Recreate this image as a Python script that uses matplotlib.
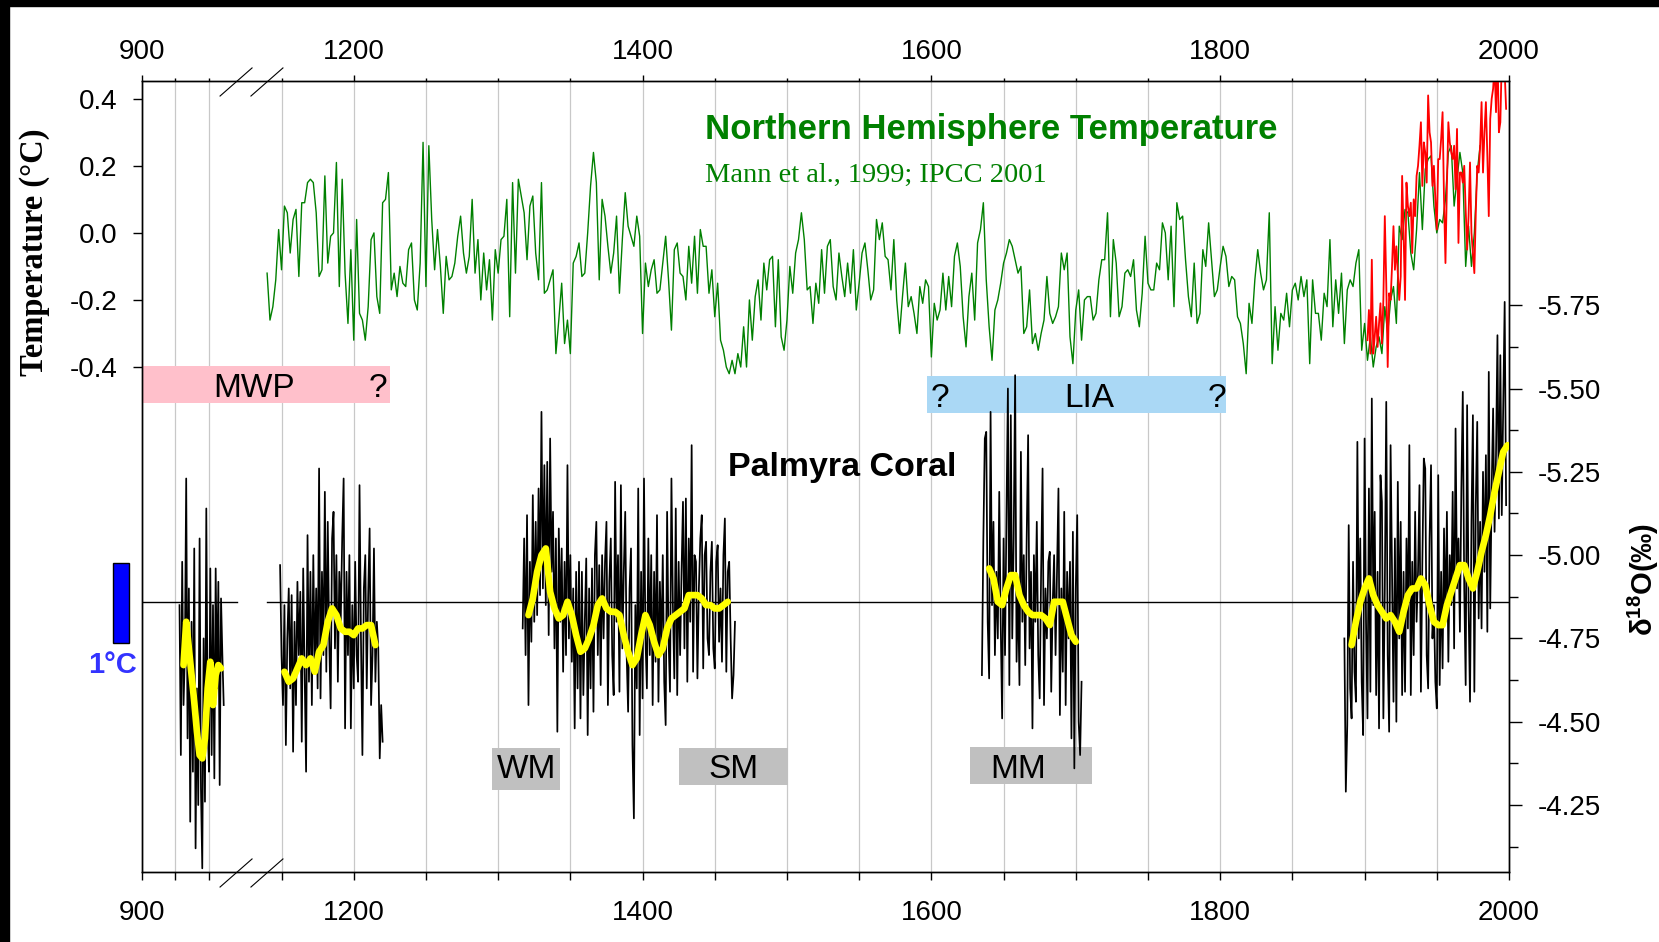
import numpy as np
import matplotlib
matplotlib.use("Agg")
import matplotlib.pyplot as plt
from matplotlib.patches import Rectangle
from matplotlib.ticker import FixedLocator, FormatStrFormatter

plt.rcParams['font.family'] = ['Liberation Sans', 'DejaVu Sans']
plt.rcParams['axes.unicode_minus'] = False
plt.rcParams['mathtext.fontset'] = 'custom'
plt.rcParams['mathtext.rm'] = 'Liberation Sans'
plt.rcParams['mathtext.it'] = 'Liberation Sans:italic'
plt.rcParams['mathtext.bf'] = 'Liberation Sans:bold'

# ---- Northern Hemisphere reconstruction (Mann et al. 1999), every 2nd year from 1140
nh_start, nh_step = 1140, 2
nh_temp = [
    -0.12, -0.26, -0.22, -0.14, 0.01, -0.11, 0.08, 0.06, -0.06, 0.04,
    0.07, -0.13, 0.09, 0.09, 0.15, 0.16, 0.15, 0.06, -0.13, -0.11,
    0.17, -0.09, -0.01, 0.00, 0.21, -0.16, 0.16, -0.12, -0.27, -0.05,
    -0.32, 0.04, -0.24, -0.26, -0.32, -0.22, -0.02, 0.00, -0.19, -0.24,
    0.09, 0.10, 0.18, -0.17, -0.12, -0.19, -0.10, -0.15, -0.16, -0.05,
    -0.03, -0.20, -0.23, -0.09, 0.27, -0.16, 0.26, 0.04, -0.11, 0.01,
    -0.10, -0.24, -0.07, -0.14, -0.13, -0.09, -0.01, 0.05, -0.06, -0.12,
    -0.07, 0.10, -0.12, -0.02, -0.20, -0.06, -0.17, -0.08, -0.26, -0.05,
    -0.12, -0.02, -0.01, 0.10, -0.25, 0.15, -0.12, 0.16, 0.11, 0.06,
    -0.08, 0.08, 0.11, -0.06, -0.14, 0.15, -0.18, -0.17, -0.14, -0.11,
    -0.36, -0.26, -0.15, -0.33, -0.26, -0.36, -0.09, -0.07, -0.03, -0.13,
    -0.12, 0.00, 0.14, 0.24, 0.15, -0.14, 0.10, 0.05, -0.04, -0.12,
    -0.06, 0.05, -0.18, -0.02, 0.12, 0.02, -0.01, -0.04, 0.05, -0.01,
    -0.30, -0.09, -0.16, -0.11, -0.08, -0.18, -0.17, -0.09, -0.01, -0.14,
    -0.29, -0.05, -0.03, -0.12, -0.13, -0.20, -0.04, -0.15, -0.01, -0.18,
    0.01, -0.04, -0.04, -0.18, -0.11, -0.25, -0.15, -0.32, -0.35, -0.40,
    -0.42, -0.38, -0.42, -0.36, -0.40, -0.28, -0.40, -0.20,
    -0.32, -0.19, -0.14, -0.26, -0.09, -0.17, -0.08, -0.07, -0.28, -0.08,
    -0.31, -0.35, -0.26, -0.10, -0.18, -0.06, -0.02, 0.06, -0.02, -0.17,
    -0.16, -0.27, -0.15, -0.21, -0.05, -0.18, -0.04, -0.02, -0.16, -0.20,
    -0.06, -0.13, -0.19, -0.09, -0.18, -0.05, -0.23, -0.15, -0.06, -0.03,
    -0.11, -0.20, -0.17, 0.04, -0.02, 0.03, -0.07, -0.08, -0.17, -0.02,
    -0.20, -0.30, -0.19, -0.09, -0.22, -0.19, -0.24, -0.30, -0.16, -0.21,
    -0.14, -0.16, -0.37, -0.21, -0.26, -0.23, -0.12, -0.23, -0.13, -0.22,
    -0.07, -0.03, -0.10, -0.25, -0.34, -0.19, -0.12, -0.26, -0.03, 0.01,
    0.09, -0.14, -0.28, -0.38, -0.23, -0.20, -0.15, -0.09, -0.06, -0.02,
    -0.04, -0.08, -0.12, -0.10, -0.30, -0.28, -0.17, -0.33, -0.30, -0.35,
    -0.30, -0.26, -0.13, -0.24, -0.27, -0.25, -0.22, -0.06, -0.11, -0.06,
    -0.31, -0.39, -0.23, -0.17, -0.32, -0.20, -0.19, -0.19, -0.26, -0.24,
    -0.14, -0.08, -0.08, 0.06, -0.25, -0.02, -0.09, -0.25, -0.22, -0.12,
    -0.11, -0.13, -0.08, -0.23, -0.28, -0.18, -0.01, -0.15, -0.17, -0.17,
    -0.09, -0.11, 0.03, 0.00, -0.14, 0.02, -0.22, 0.09, 0.04, 0.05,
    -0.08, -0.19, -0.25, -0.09, -0.27, -0.24, -0.05, -0.10, 0.03, -0.08,
    -0.19, -0.17, -0.10, -0.04, -0.07, -0.16, -0.13, -0.14, -0.25, -0.27,
    -0.33, -0.42, -0.21, -0.27, -0.14, -0.05, -0.12, -0.17, -0.14, 0.06,
    -0.39, -0.22, -0.35, -0.24, -0.26, -0.18, -0.28, -0.17, -0.15, -0.20,
    -0.13, -0.19, -0.14, -0.39, -0.14, -0.24, -0.24, -0.32, -0.18, -0.22,
    -0.02, -0.28, -0.14, -0.24, -0.12, -0.33, -0.17, -0.14, -0.16, -0.09,
    -0.05, -0.35, -0.27, -0.38, -0.31, -0.40, -0.34, -0.31, -0.36, -0.22,
    -0.30,
    -0.20, -0.16, -0.27, 0.02, -0.02, 0.07, 0.06, -0.06, -0.11, 0.01,
    0.18, 0.01, 0.19, 0.22, 0.23, 0.08, 0.00, 0.04, 0.03, 0.10,
    0.24, 0.26, 0.08, 0.16, 0.24, 0.18, -0.10, 0.02, -0.10, 0.00,
    0.18, 0.26,
]

# ---- instrumental record, annual from 1902
instr_start = 1902
instrumental = [
    -0.32, -0.23, -0.36, -0.08, -0.36, -0.31, -0.25, -0.34, -0.27, -0.21,
    -0.33, -0.20, 0.05, -0.15, -0.40, -0.18, -0.20, -0.10, 0.02, -0.11,
    -0.04, -0.12, -0.20, -0.13, 0.17, 0.00, -0.20, 0.15, 0.08, 0.05,
    0.09, -0.06, 0.10, 0.05, 0.17, 0.20, 0.26, 0.33, 0.14, 0.27,
    0.24, 0.15, 0.41, 0.30, 0.27, 0.14, 0.20, 0.10, 0.01, 0.22,
    0.22, 0.28, 0.36, 0.10, -0.09, 0.14, 0.33, 0.27, 0.24, 0.22,
    0.26, 0.13, 0.31, -0.03, 0.18, 0.18, 0.15, 0.20, 0.07, -0.05,
    0.05, 0.21, 0.00, -0.06, -0.12, 0.06, 0.20, 0.18, 0.26, 0.39,
    0.18, 0.30, 0.39, 0.23, 0.05, 0.34, 0.40, 0.43, 0.50, 0.36,
    0.55, 0.30, 0.33, 0.52, 0.58, 0.48, 0.37,
]

# ---- Palmyra coral d18O, annual values per fossil / modern segment
coral_starts = [928, 1149, 1317, 1635, 1886]
coral_1 = [
    -4.85, -4.40, -4.98, -4.55, -4.70, -5.23, -4.45, -4.90, -4.20, -4.80,
    -4.35, -5.02, -4.12, -4.60, -4.25, -5.05, -4.30, -4.06, -4.75, -4.26,
    -5.14, -4.50, -4.35, -4.96, -4.40, -4.85, -4.33, -4.96, -4.60, -4.92,
    -4.31, -4.87, -4.70, -4.55,
]
coral_2 = [
    -4.97, -4.70, -4.55, -4.85, -4.43, -4.75, -4.90, -4.60, -4.88, -4.41,
    -4.80, -4.55, -4.92, -4.70, -4.89, -4.44, -4.96, -4.65, -4.35, -5.06,
    -4.62, -4.95, -4.55, -5.00, -4.65, -4.90, -4.60, -5.26, -4.57, -4.95,
    -4.70, -5.19, -4.65, -5.10, -4.75, -4.54, -5.05, -5.13, -4.72, -5.00,
    -4.62, -4.95, -4.80, -5.05, -5.23, -4.48, -4.95, -4.70, -5.00, -4.48,
    -4.85, -4.60, -4.98, -4.70, -4.62, -5.21, -4.75, -4.40, -4.90, -5.00,
    -4.60, -4.88, -5.08, -4.55, -4.70, -5.02, -4.62, -4.80, -4.72, -4.39,
    -4.55, -4.44,
]
coral_3 = [
    -4.78, -5.05, -4.70, -5.12, -4.55, -4.98, -4.74, -5.18, -4.80, -5.10,
    -4.82, -5.20, -4.88, -5.43, -4.90, -5.27, -4.85, -5.28, -4.76, -5.35,
    -4.95, -5.13, -4.72, -5.05, -4.47, -5.08, -4.80, -5.02, -4.65, -4.98,
    -4.70, -5.27, -4.75, -5.00, -4.68, -4.90, -4.48, -4.95, -4.60, -4.98,
    -4.51, -4.95, -4.58, -4.80, -4.99, -4.46, -4.90, -4.60, -4.96, -4.53,
    -5.00, -5.10, -4.70, -4.97, -4.61, -5.00, -4.75, -4.98, -5.10, -4.55,
    -4.92, -5.05, -4.70, -4.58, -5.22, -4.80, -5.00, -4.59, -5.21, -4.72,
    -4.95, -5.13, -4.70, -4.53, -4.90, -5.02, -4.43, -4.21, -4.85, -4.60,
    -5.20, -4.46, -4.95, -4.57, -5.23, -4.75, -4.60, -5.05, -4.70, -5.00,
    -4.55, -4.95, -4.68, -5.12, -4.56, -4.92, -4.72, -5.00, -4.62, -4.49,
    -5.13, -4.75, -4.59, -5.23, -4.85, -4.63, -5.14, -4.58, -4.98, -4.70,
    -4.95, -5.16, -4.72, -5.17, -4.62, -5.05, -4.80, -5.33, -4.65, -5.00,
    -4.98, -4.63, -4.90, -5.05, -5.12, -4.66, -5.00, -5.04, -4.75, -4.70,
    -4.95, -5.04, -4.72, -4.66, -4.98, -5.03, -4.74, -4.90, -4.68, -5.00,
    -5.11, -4.65, -4.95, -4.98, -4.75, -4.57, -4.64, -4.80,
]
coral_4 = [
    -4.64, -5.05, -5.35, -5.37, -4.80, -4.63, -5.43, -4.85, -5.10, -4.70,
    -4.95, -4.75, -5.19, -4.80, -4.51, -5.05, -4.70, -5.12, -5.50, -4.61,
    -5.42, -4.75, -5.05, -5.54, -4.68, -4.90, -4.61, -5.31, -4.80, -5.00,
    -4.67, -5.05, -5.36, -4.72, -4.95, -4.48, -5.00, -4.80, -5.10, -4.70,
    -4.57, -4.95, -5.26, -4.55, -4.90, -4.75, -4.98, -5.01, -4.59, -4.85,
    -5.00, -4.70, -4.95, -5.20, -4.52, -4.90, -4.65, -5.13, -4.55, -4.95,
    -4.75, -4.98, -4.45, -5.07, -4.36, -4.90, -5.12, -4.50, -4.40, -4.62,
]
coral_5 = [
    -4.75, -4.29, -4.49, -5.09, -4.60, -4.51, -4.98, -4.65, -4.56, -5.34,
    -4.75, -5.05, -4.62, -4.46, -5.35, -4.80, -4.51, -5.20, -4.59, -5.47,
    -4.85, -5.13, -4.58, -4.95, -4.48, -5.24, -5.16, -4.51, -4.90, -5.46,
    -4.70, -4.47, -5.33, -4.95, -4.56, -5.05, -4.50, -5.22, -4.75, -5.10,
    -4.58, -4.95, -4.59, -5.05, -4.78, -5.33, -4.58, -4.98, -4.70, -5.13,
    -4.80, -4.95, -5.21, -4.59, -4.98, -5.29, -5.26, -4.70, -4.60, -5.05,
    -5.27, -4.75, -4.85, -4.62, -4.54, -5.24, -4.61, -4.95, -4.66, -5.08,
    -4.80, -5.13, -4.68, -5.00, -4.85, -5.19, -4.72, -5.38, -4.90, -5.05,
    -4.77, -5.20, -5.49, -4.90, -4.61, -5.45, -4.85, -4.56, -5.10, -5.42,
    -4.59, -5.15, -5.40, -4.81, -5.10, -4.78, -5.25, -4.95, -5.30, -4.77,
    -5.55, -4.84, -5.20, -5.44, -5.07, -5.30, -5.66, -5.11, -5.60, -5.12,
    -5.45, -5.76, -5.15,
]
coral_series = [coral_1, coral_2, coral_3, coral_4, coral_5]

# ---- smoothed coral curves (start year, step in years)
smooth_starts = [931, 1152, 1321, 1640, 1891]
smooth_steps = [2, 3, 3, 3, 3]
smooth_1 = [-4.67, -4.80, -4.72, -4.64, -4.56, -4.47, -4.40, -4.39, -4.45, -4.60,
            -4.68, -4.55, -4.64, -4.67, -4.66]
smooth_2 = [-4.65, -4.62, -4.63, -4.66, -4.69, -4.67, -4.69, -4.65, -4.71, -4.73,
            -4.80, -4.84, -4.82, -4.78, -4.77, -4.77, -4.76, -4.78, -4.78, -4.79,
            -4.79, -4.73]
smooth_3 = [-4.82, -4.87, -4.95, -5.00, -5.02, -4.89, -4.84, -4.81, -4.82, -4.86,
            -4.82, -4.76, -4.71, -4.72, -4.75, -4.79, -4.85, -4.87, -4.84, -4.83,
            -4.83, -4.82, -4.76, -4.71, -4.67, -4.69, -4.76, -4.82, -4.79, -4.74,
            -4.70, -4.72, -4.78, -4.81, -4.82, -4.83, -4.84, -4.88, -4.88, -4.88,
            -4.87, -4.85, -4.85, -4.84, -4.84, -4.85, -4.86]
smooth_4 = [-4.96, -4.93, -4.86, -4.85, -4.90, -4.94, -4.94, -4.88, -4.85, -4.83,
            -4.82, -4.82, -4.82, -4.81, -4.79, -4.86, -4.86, -4.86, -4.81, -4.76,
            -4.74]
smooth_5 = [-4.73, -4.80, -4.86, -4.90, -4.93, -4.88, -4.85, -4.83, -4.81, -4.82,
            -4.80, -4.77, -4.83, -4.88, -4.90, -4.90, -4.93, -4.91, -4.85, -4.80,
            -4.79, -4.79, -4.85, -4.89, -4.93, -4.97, -4.97, -4.93, -4.90, -4.95,
            -5.01, -5.06, -5.12, -5.19, -5.25, -5.31, -5.33]
smooth_series = [smooth_1, smooth_2, smooth_3, smooth_4, smooth_5]

coral_mean = -4.86
degc_in_permil = 0.24   # size of the 1 degC scale bar on the d18O axis

# shaded periods: (label, start, end, temp_bottom, temp_top, colour)
periods = [
    ('MWP', 900, 1225, -0.507, -0.397, '#ffc0cb'),
    ('LIA', 1597, 1804, -0.537, -0.427, '#aad8f5'),
    ('WM', 1296, 1343, -1.661, -1.536, '#c0c0c0'),
    ('SM', 1425, 1501, -1.646, -1.536, '#c0c0c0'),
    ('MM', 1627, 1711, -1.643, -1.533, '#c0c0c0'),
]

# ---- broken time axis: 900-971 squeezed left, gap, then 1140-2000
left_rate, right_rate, gap_width = 1.34, 1.4446, 30.0
break_lo, break_hi = 971, 1140
brk_years = [0, 900, break_lo, break_hi, 3000]
u_lo = (break_lo - 900) * left_rate
brk_units = [-900 * left_rate, 0.0, u_lo, u_lo + gap_width,
             u_lo + gap_width + (3000 - break_hi) * right_rate]


def year_to_unit(x):
    return np.interp(x, brk_years, brk_units)


def unit_to_year(u):
    return np.interp(u, brk_units, brk_years)


fig = plt.figure(figsize=(16.59, 9.42), dpi=100)
ax = fig.add_axes([142 / 1659, 70 / 942, 1367 / 1659, 791 / 942])
ax.set_xscale('function', functions=(year_to_unit, unit_to_year))
ax2 = ax.twinx()

# temperature panel
nh_years = nh_start + nh_step * np.arange(len(nh_temp))
ax.plot(nh_years, nh_temp, color='#008000', lw=1.0, zorder=3)
instr_years = instr_start + np.arange(len(instrumental))
ax.plot(instr_years, instrumental, color='#ff0000', lw=1.3, zorder=4)

for label, x0, x1, y0, y1, col in periods:
    ax.add_patch(Rectangle((x0, y0), x1 - x0, y1 - y0, facecolor=col,
                           edgecolor='none', zorder=2))

# coral panel
ax2.plot([900, break_lo], [coral_mean, coral_mean], color='black', lw=1.0, zorder=1)
ax2.plot([break_hi, 2000], [coral_mean, coral_mean], color='black', lw=1.0, zorder=1)
for start, vals in zip(coral_starts, coral_series):
    yrs = start + np.arange(len(vals))
    ax2.plot(yrs, vals, color='black', lw=1.25, zorder=2)
for start, step, vals in zip(smooth_starts, smooth_steps, smooth_series):
    yrs = start + step * np.arange(len(vals))
    ax2.plot(yrs, vals, color='#ffff00', lw=4.8, solid_capstyle='round',
             solid_joinstyle='round', zorder=3)

# limits
ax.set_xlim(900, 2000)
ax.set_ylim(-1.906, 0.453)
ax2.set_ylim(-4.049, -6.423)

# x ticks: labels at bottom (ax) and top (ax2 x-axis)
major_years = [900, 1200, 1400, 1600, 1800, 2000]
minor_years = [925, 950, 1150, 1250, 1300, 1350, 1450, 1500, 1550,
               1650, 1700, 1750, 1850, 1900, 1950]
ax.xaxis.set_major_locator(FixedLocator(major_years))
ax.xaxis.set_minor_locator(FixedLocator(minor_years))
ax.xaxis.set_major_formatter(FormatStrFormatter('%d'))
ax.grid(True, axis='x', which='both', color='#c8c8c8', lw=0.9)
ax.set_axisbelow(True)
ax.tick_params(axis='x', which='both', direction='out', length=5.8, width=1,
               labelsize=20, pad=14, top=False, bottom=True)

ax2.xaxis.set_visible(True)
ax2.xaxis.tick_top()
ax2.tick_params(axis='x', which='major', direction='out', length=4.3, width=1,
                labelsize=20, pad=7, top=True, labeltop=True,
                bottom=False, labelbottom=False)
ax2.tick_params(axis='x', which='minor', direction='out', length=2.5, width=1,
                top=True, bottom=False)

# y ticks
ax.set_yticks([0.4, 0.2, 0.0, -0.2, -0.4])
ax.yaxis.set_major_formatter(FormatStrFormatter('%.1f'))
ax.tick_params(axis='y', direction='out', length=6.5, width=1, labelsize=20, pad=11)

ax2.set_yticks([-5.75, -5.50, -5.25, -5.00, -4.75, -4.50, -4.25])
ax2.set_yticks([-5.625, -5.375, -5.125, -4.875, -4.625, -4.375, -4.125], minor=True)
ax2.yaxis.set_major_formatter(FormatStrFormatter('%.2f'))
ax2.tick_params(axis='y', which='major', direction='out', length=9.4, width=1,
                labelsize=20, pad=11)
ax2.tick_params(axis='y', which='minor', direction='out', length=6.5, width=1)

for a in (ax, ax2):
    for sp in a.spines.values():
        sp.set_linewidth(1.0)
        sp.set_color('black')

# axis break marks
for x0 in (0.0571, 0.0797):
    for yb in (1.0, 0.0):
        ax.plot([x0, x0 + 0.0234], [yb - 0.019, yb + 0.0165], color='black',
                lw=0.8, transform=ax.transAxes, clip_on=False, zorder=6)

# labels and annotations
ax.text(1443.4, 0.280, 'Northern Hemisphere Temperature', color='#008000',
        fontsize=25, fontweight='bold', ha='left', va='baseline')
ax.text(1443.4, 0.152, 'Mann et al., 1999; IPCC 2001', color='#008000',
        fontsize=20.5, family=['Liberation Serif'], ha='left', va='baseline')
ax.text(1538.3, -0.725, 'Palmyra Coral', fontsize=24.5, fontweight='bold',
        ha='center', va='baseline', zorder=7)

ax.text(1066, -0.489, 'MWP', fontsize=24, ha='center', va='baseline')
ax.text(1217, -0.489, '?', fontsize=24, ha='center', va='baseline')
ax.text(1606, -0.519, '?', fontsize=24, ha='center', va='baseline')
ax.text(1709, -0.519, 'LIA', fontsize=24, ha='center', va='baseline')
ax.text(1798, -0.519, '?', fontsize=24, ha='center', va='baseline')
ax.text(1319.6, -1.626, 'WM', fontsize=24, ha='center', va='baseline')
ax.text(1463, -1.626, 'SM', fontsize=24, ha='center', va='baseline')
ax.text(1660, -1.626, 'MM', fontsize=24, ha='center', va='baseline')

fig.text(35 / 1659, 1 - 252 / 942, 'Temperature (°C)', rotation=90,
         family=['Liberation Serif'], fontweight='bold', fontsize=23.5,
         ha='center', va='center')
fig.text(1626 / 1659, 1 - 579 / 942, r'$\mathbf{\delta^{18}O(‰)}$', rotation=90,
         fontsize=21, ha='left', va='center')

# 1 degC scale bar beside the coral axis
bar_trans = ax2.get_yaxis_transform()
bar_top = -4.975
ax2.add_patch(Rectangle((-0.0212, bar_top), 0.0117, degc_in_permil,
                        transform=bar_trans, facecolor='#0000ff',
                        edgecolor='black', lw=1.0, clip_on=False))
ax2.text(-0.0219, -4.647, '1°C', transform=bar_trans, color='#3333ff',
         fontsize=21, fontweight='bold', ha='center', va='baseline')

# dark frame along the top and left edge
fig.add_artist(Rectangle((0, 1 - 6 / 942), 1, 6 / 942, transform=fig.transFigure,
                         color='black', zorder=10))
fig.add_artist(Rectangle((0, 0), 9 / 1659, 1, transform=fig.transFigure,
                         color='black', zorder=10))

fig.savefig('out.png', dpi=100)
